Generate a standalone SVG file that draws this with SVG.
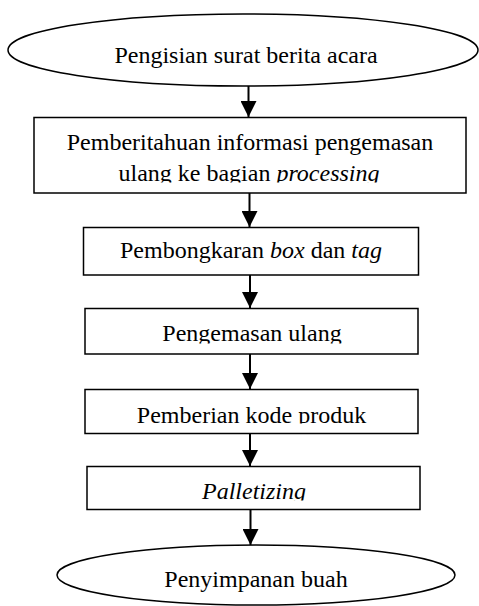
<svg xmlns="http://www.w3.org/2000/svg" width="479" height="606" viewBox="0 0 479 606">
<style>
.shape{fill:#fff;stroke:#000;stroke-width:1.5}
.t{font-family:"Liberation Serif","Times New Roman",serif;font-size:24px;fill:#000;text-anchor:middle}
.i{font-style:italic}
.c{stroke:#000;stroke-width:2;fill:none}
</style>
<defs>
<marker id="ah" markerUnits="userSpaceOnUse" markerWidth="16" markerHeight="16" refX="16" refY="8" orient="auto" viewBox="0 0 16 16">
<path d="M0,0 L16,8 L0,16 z" fill="#000"/>
</marker>
<clipPath id="c1"><rect x="34" y="118" width="432" height="64.5"/></clipPath>
<clipPath id="c3"><rect x="85" y="309" width="333" height="34.5"/></clipPath>
<clipPath id="c4"><rect x="85" y="390" width="333" height="33.5"/></clipPath>
<clipPath id="c5"><rect x="87" y="467" width="333" height="33.5"/></clipPath>
</defs>
<g id="connectors">
<line class="c" x1="248.5" y1="86" x2="248.5" y2="117" marker-end="url(#ah)"/>
<line class="c" x1="249.5" y1="193" x2="249.5" y2="227" marker-end="url(#ah)"/>
<line class="c" x1="250" y1="275" x2="250" y2="308" marker-end="url(#ah)"/>
<line class="c" x1="250" y1="354" x2="250" y2="389" marker-end="url(#ah)"/>
<line class="c" x1="250" y1="433" x2="250" y2="466" marker-end="url(#ah)"/>
<line class="c" x1="250.5" y1="510" x2="250.5" y2="545" marker-end="url(#ah)"/>
</g>
<g id="start">
<ellipse class="shape" cx="243" cy="50" rx="235" ry="36"/>
<text class="t" x="246" y="63">Pengisian surat berita acara</text>
</g>
<g id="notify">
<rect class="shape" x="34" y="117.5" width="432" height="75.5"/>
<text class="t" x="250" y="150">Pemberitahuan informasi pengemasan</text>
<text class="t" x="249" y="180.7" clip-path="url(#c1)">ulang ke bagian <tspan class="i">processing</tspan></text>
</g>
<g id="unbox">
<rect class="shape" x="83.5" y="227.5" width="335" height="47.5"/>
<text class="t" x="251" y="258.3">Pembongkaran <tspan class="i">box</tspan> dan <tspan class="i">tag</tspan></text>
</g>
<g id="repack">
<rect class="shape" x="85" y="308.5" width="333" height="45.5"/>
<text class="t" x="252" y="340.7" clip-path="url(#c3)">Pengemasan ulang</text>
</g>
<g id="code">
<rect class="shape" x="85" y="389.5" width="333" height="44"/>
<text class="t" x="251.5" y="422.5" clip-path="url(#c4)">Pemberian kode produk</text>
</g>
<g id="pallet">
<rect class="shape" x="87" y="466.5" width="333" height="43"/>
<text class="t i" x="254" y="499.3" clip-path="url(#c5)">Palletizing</text>
</g>
<g id="end">
<ellipse class="shape" cx="256" cy="575" rx="199" ry="30"/>
<text class="t" x="256" y="586.7">Penyimpanan buah</text>
</g>
</svg>
